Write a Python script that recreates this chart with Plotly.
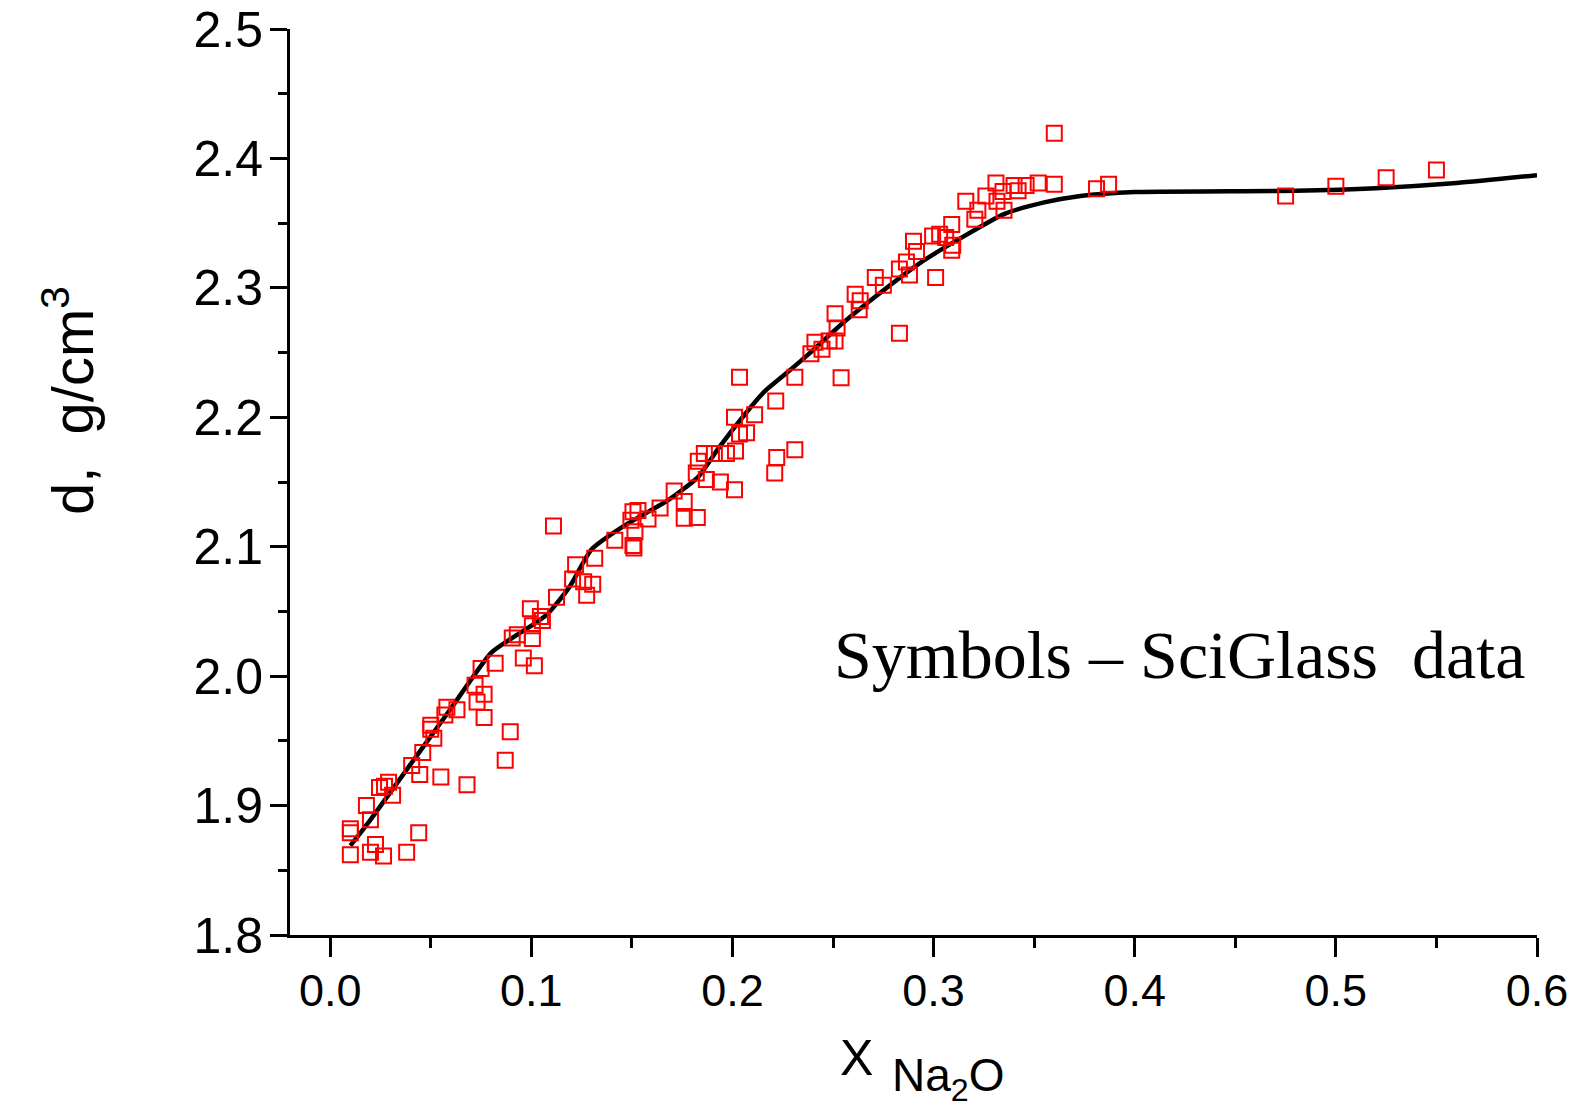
import plotly.graph_objects as go

# SciGlass data points (x = mole fraction Na2O, y = density g/cm3)
data_x = [
    0.010, 0.010, 0.010, 0.020, 0.0225, 0.0265, 0.020, 0.018, 0.0245, 0.029,
    0.027, 0.031, 0.038, 0.044, 0.0405, 0.0445, 0.046, 0.055, 0.068, 0.050,
    0.050, 0.0515, 0.058, 0.057, 0.063, 0.072, 0.0765, 0.073, 0.0765, 0.075,
    0.082, 0.0895, 0.087, 0.096, 0.1015, 0.0905, 0.093, 0.1005, 0.0995, 0.1005,
    0.1045, 0.1055,
    0.111, 0.1125, 0.1205, 0.126, 0.1305, 0.1275, 0.122, 0.1315, 0.1415, 0.1505,
    0.153, 0.158, 0.1495, 0.1515, 0.1505, 0.151, 0.164, 0.171, 0.176, 0.176,
    0.1825, 0.183, 0.182, 0.187, 0.194, 0.201, 0.186, 0.191, 0.197, 0.2015,
    0.2035, 0.207, 0.201, 0.211, 0.222, 0.221, 0.231, 0.2215, 0.2035,
    0.231, 0.254, 0.239, 0.241, 0.2445, 0.251, 0.248, 0.252, 0.251, 0.261,
    0.263, 0.2635, 0.271, 0.275, 0.283, 0.2865, 0.288, 0.2915, 0.290, 0.301,
    0.283, 0.2995, 0.303, 0.306, 0.309, 0.3095, 0.309, 0.316, 0.322, 0.3205,
    0.326, 0.331, 0.3345, 0.3315, 0.335, 0.340, 0.342, 0.346, 0.352, 0.360,
    0.360, 0.381, 0.387, 0.475, 0.500, 0.525, 0.550,
]
data_y = [
    1.862, 1.882, 1.879, 1.864, 1.870, 1.861, 1.889, 1.900, 1.914, 1.918,
    1.915, 1.908, 1.864, 1.879, 1.931, 1.924, 1.941, 1.922, 1.916, 1.962,
    1.959, 1.952, 1.976, 1.970, 1.974, 1.993, 1.986, 1.980, 1.968, 2.006,
    2.010, 1.957, 1.935, 2.014, 2.008, 2.0295, 2.032, 2.029, 2.052, 2.039,
    2.046, 2.043,
    2.116, 2.061, 2.075, 2.073, 2.071, 2.0625, 2.086, 2.091, 2.105, 2.127,
    2.128, 2.1215, 2.1205, 2.1115, 2.101, 2.099, 2.130, 2.143, 2.135, 2.122,
    2.1225, 2.166, 2.157, 2.152, 2.150, 2.144, 2.172, 2.172, 2.172, 2.174,
    2.187, 2.188, 2.200, 2.202, 2.169, 2.157, 2.175, 2.2125, 2.231,
    2.231, 2.2305, 2.249, 2.258, 2.2525, 2.259, 2.259, 2.269, 2.280, 2.295,
    2.283, 2.290, 2.308, 2.302, 2.3145, 2.320, 2.310, 2.328, 2.336, 2.308,
    2.265, 2.340, 2.3415, 2.339, 2.349, 2.333, 2.329, 2.367, 2.360, 2.353,
    2.371, 2.381, 2.3745, 2.367, 2.360, 2.379, 2.375, 2.379, 2.381, 2.380,
    2.4195, 2.3765, 2.380, 2.371, 2.3785, 2.385, 2.391,
]

# model curve
curve_x = [
    0.010, 0.020, 0.040, 0.060, 0.080, 0.090, 0.100, 0.108, 0.119, 0.130,
    0.146, 0.168, 0.183, 0.193, 0.206, 0.216, 0.226, 0.238, 0.255, 0.270,
    0.293, 0.313, 0.335, 0.355, 0.373, 0.400, 0.480, 0.520, 0.560, 0.600,
]
curve_y = [
    1.869, 1.889, 1.932, 1.975, 2.018, 2.029, 2.039, 2.048, 2.069, 2.098,
    2.116, 2.136, 2.154, 2.176, 2.202, 2.220, 2.233, 2.249, 2.273, 2.292,
    2.319, 2.338, 2.357, 2.366, 2.371, 2.374, 2.375, 2.377, 2.381, 2.387,
]

x_ticks = [0.0, 0.1, 0.2, 0.3, 0.4, 0.5, 0.6]
y_ticks = [1.8, 1.9, 2.0, 2.1, 2.2, 2.3, 2.4, 2.5]

# plot area in figure pixels (page body adds an 8px offset on screen)
X0, X1, Y0, Y1 = 282, 1529, 21, 927
def px(x):
    return (x - X0) / (X1 - X0)
def py(y):
    return (Y1 - y) / (Y1 - Y0)

fig = go.Figure()

fig.add_trace(go.Scatter(
    x=curve_x, y=curve_y, mode='lines',
    line=dict(color='black', width=4.5, shape='spline', smoothing=0.6),
    showlegend=False, hoverinfo='skip',
))

fig.add_trace(go.Scatter(
    x=data_x, y=data_y, mode='markers',
    marker=dict(symbol='square-open', size=15, color='#ff0000',
                line=dict(color='#ff0000', width=2)),
    showlegend=False,
))

fig.update_layout(
    width=1575, height=1104,
    margin=dict(l=X0, r=1575 - X1, t=Y0, b=1104 - Y1),
    paper_bgcolor='white', plot_bgcolor='white',
    xaxis=dict(
        range=[-0.02, 0.6], tickvals=x_ticks, tickformat='.1f',
        showgrid=False, zeroline=False, automargin=False,
        showline=True, linecolor='black', linewidth=3,
        ticks='outside', ticklen=19, tickwidth=3, tickcolor='black',
        minor=dict(tickvals=[0.05, 0.15, 0.25, 0.35, 0.45, 0.55],
                   ticks='outside', ticklen=10, tickwidth=3, tickcolor='black'),
        tickfont=dict(family='Liberation Sans, Arial', size=45, color='black'),
        ticklabelstandoff=-5, ticklabeloverflow='allow',
    ),
    yaxis=dict(
        range=[1.8, 2.5], tickvals=y_ticks, tickformat='.1f',
        showgrid=False, zeroline=False, automargin=False,
        showline=True, linecolor='black', linewidth=3,
        ticks='outside', ticklen=17, tickwidth=3, tickcolor='black',
        minor=dict(tickvals=[1.85, 1.95, 2.05, 2.15, 2.25, 2.35, 2.45],
                   ticks='outside', ticklen=9, tickwidth=3, tickcolor='black'),
        tickfont=dict(family='Liberation Sans, Arial', size=50, color='black'),
        ticklabelstandoff=-3, ticklabeloverflow='allow',
    ),
)

# y axis title
fig.add_annotation(
    xref='paper', yref='paper', x=px(60), y=py(393),
    xanchor='center', yanchor='middle',
    text='d,\u00a0\u00a0g/cm<sup>3</sup>', textangle=-90, showarrow=False,
    font=dict(family='Liberation Sans, Arial', size=58, color='black'),
)

# x axis title: X with subscript Na2O
fig.add_annotation(
    xref='paper', yref='paper', x=px(848), y=py(1050),
    xanchor='center', yanchor='middle',
    text='X', showarrow=False,
    font=dict(family='Liberation Sans, Arial', size=50, color='black'),
)
fig.add_annotation(
    xref='paper', yref='paper', x=px(882), y=py(1070),
    xanchor='left', yanchor='middle',
    text='Na<sub>2</sub>O', showarrow=False,
    font=dict(family='Liberation Sans, Arial', size=46, color='black'),
)

fig.add_annotation(
    xref='paper', yref='paper', x=px(1171), y=py(647),
    xanchor='center', yanchor='middle',
    text='Symbols \u2013 SciGlass\u00a0\u00a0data', showarrow=False,
    font=dict(family='Liberation Serif, Times New Roman', size=68, color='black'),
)

fig.write_html("out.html")
